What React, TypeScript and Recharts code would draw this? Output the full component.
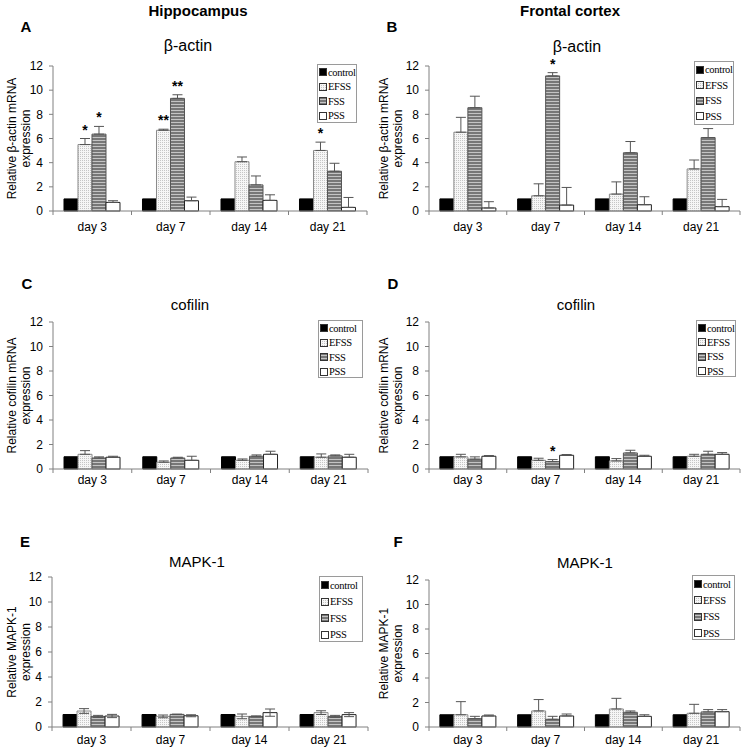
import React from 'react';
import { BarChart, Bar, XAxis, YAxis, ErrorBar, LabelList, Legend } from 'recharts';

const FONT = '"Liberation Sans", Arial, sans-serif';
const SERIF = '"Liberation Serif", "Times New Roman", serif';
const AXIS = '#808080';

const CATEGORIES = ['day 3', 'day 7', 'day 14', 'day 21'];
const SERIES = ['control', 'EFSS', 'FSS', 'PSS'];
const Y_TICKS = [0, 2, 4, 6, 8, 10, 12];
const CONTROL = [1, 1, 1, 1];

// A - hippocampus, beta-actin
const A_EFSS = [5.5, 6.68, 4.08, 5.01];
const A_EFSS_ERR = [0.5, 0.09, 0.39, 0.69];
const A_FSS = [6.36, 9.32, 2.16, 3.29];
const A_FSS_ERR = [0.64, 0.3, 0.74, 0.66];
const A_PSS = [0.71, 0.85, 0.88, 0.3];
const A_PSS_ERR = [0.14, 0.3, 0.46, 0.82];
const A_EFSS_STARS = ['*', '**', '', '*'];
const A_FSS_STARS = ['*', '**', '', ''];

// B - frontal cortex, beta-actin
const B_EFSS = [6.52, 1.26, 1.4, 3.48];
const B_EFSS_ERR = [1.23, 0.99, 1.01, 0.74];
const B_FSS = [8.55, 11.18, 4.82, 6.08];
const B_FSS_ERR = [0.95, 0.27, 0.93, 0.74];
const B_PSS = [0.25, 0.49, 0.52, 0.36];
const B_PSS_ERR = [0.52, 1.46, 0.66, 0.6];
const B_FSS_STARS = ['', '*', '', ''];

// C - hippocampus, cofilin
const C_EFSS = [1.2, 0.55, 0.71, 0.96];
const C_EFSS_ERR = [0.3, 0.11, 0.11, 0.27];
const C_FSS = [0.9, 0.9, 1.04, 1.07];
const C_FSS_ERR = [0.09, 0.06, 0.11, 0.08];
const C_PSS = [0.96, 0.71, 1.2, 0.96];
const C_PSS_ERR = [0.08, 0.33, 0.25, 0.24];

// D - frontal cortex, cofilin
const D_EFSS = [0.99, 0.71, 0.66, 1.04];
const D_EFSS_ERR = [0.21, 0.17, 0.19, 0.16];
const D_FSS = [0.8, 0.6, 1.31, 1.2];
const D_FSS_ERR = [0.19, 0.17, 0.22, 0.25];
const D_PSS = [1.04, 1.12, 1.04, 1.2];
const D_PSS_ERR = [0.06, 0.06, 0.08, 0.14];
const D_FSS_STARS = ['', '*', '', ''];

// E - hippocampus, MAPK-1 (two-sided error bars)
const E_EFSS = [1.28, 0.85, 0.85, 1.15];
const E_EFSS_ERR = [0.19, 0.11, 0.19, 0.15];
const E_FSS = [0.85, 1.01, 0.85, 0.85];
const E_FSS_ERR = [0.08, 0.02, 0.04, 0.08];
const E_PSS = [0.88, 0.9, 1.15, 0.99];
const E_PSS_ERR = [0.13, 0.08, 0.29, 0.16];

// F - frontal cortex, MAPK-1
const F_EFSS = [1.0, 1.31, 1.47, 1.12];
const F_EFSS_ERR = [1.07, 0.93, 0.87, 0.73];
const F_FSS = [0.68, 0.63, 1.2, 1.23];
const F_FSS_ERR = [0.19, 0.24, 0.11, 0.19];
const F_PSS = [0.9, 0.9, 0.87, 1.25];
const F_PSS_ERR = [0.08, 0.16, 0.13, 0.17];

const STROKES: Record<string, string> = { control: '#000', EFSS: '#8a8a8a', FSS: '#555', PSS: '#222' };

type Box = { left: number; top: number; width: number; height: number };

type PanelProps = {
  id: string;
  left: number;
  top: number;
  marginTop: number;
  marginRight: number;
  marginBottom: number;
  yAxisWidth: number;
  xAxisHeight: number;
  labelDy: number;
  yLabel: string;
  legend: Box;
  legendRow: number;
  series: Record<string, number[]>;
  errs: Record<string, number[]>;
  stars: Record<string, string[]>;
  twoSided?: boolean;
};

const W = 372;
const H = 250;

function fillFor(id: string, key: string) {
  if (key === 'control') return '#000';
  if (key === 'EFSS') return `url(#${id}-dots)`;
  if (key === 'FSS') return `url(#${id}-stripes)`;
  return '#fff';
}

const makeCatTick = (band: number, dy: number) => (props: any) => {
  const { x, y, payload } = props;
  const isLast = payload.value === CATEGORIES[CATEGORIES.length - 1];
  return (
    <g>
      <line x1={x - band / 2} y1={y} x2={x - band / 2} y2={y + 4} stroke={AXIS} />
      {isLast && <line x1={x + band / 2} y1={y} x2={x + band / 2} y2={y + 4} stroke={AXIS} />}
      <text x={x} y={y + dy} textAnchor="middle" fontSize={12} fontFamily={FONT} fill="#000">
        {payload.value}
      </text>
    </g>
  );
};

const makeStar = (vals: number[], errs: number[], stars: string[]) => (props: any) => {
  const vb = props.viewBox || props;
  const i = props.index;
  const s = stars[i];
  if (!s) return null;
  const px = vb.height / vals[i];
  const errTop = vb.y - errs[i] * px;
  return (
    <text
      key={`star-${i}`}
      x={vb.x + vb.width / 2}
      y={errTop - 4}
      textAnchor="middle"
      fontSize={14}
      fontWeight="bold"
      fontFamily={FONT}
      fill="#000"
    >
      {s}
    </text>
  );
};

function Panel(p: PanelProps) {
  const rows = CATEGORIES.map((day, i) => {
    const row: Record<string, any> = { day };
    SERIES.forEach((k) => {
      row[k] = p.series[k][i];
      if (p.errs[k]) row[`${k}Err`] = p.twoSided ? p.errs[k][i] : [0, p.errs[k][i]];
    });
    return row;
  });
  const plotW = W - p.yAxisWidth - p.marginRight;
  const band = plotW / CATEGORIES.length;
  const lines = [p.yLabel, 'expression'];

  const renderYLabel = (props: any) => {
    const vb = props.viewBox;
    const cy = vb.y + vb.height / 2;
    return (
      <g>
        {lines.map((t, i) => {
          const cx = vb.x + 11.5 + i * 14.5;
          return (
            <text
              key={t}
              x={cx}
              y={cy}
              transform={`rotate(-90 ${cx} ${cy})`}
              textAnchor="middle"
              dominantBaseline="central"
              fontSize={12}
              fontFamily={FONT}
              fill="#000"
            >
              {t}
            </text>
          );
        })}
      </g>
    );
  };

  const renderLegend = () => (
    <div
      style={{
        width: p.legend.width,
        height: p.legend.height,
        boxSizing: 'border-box',
        border: '1px solid #9a9a9a',
        background: '#fff',
        padding: '0 1px',
      }}
    >
      {SERIES.map((k) => (
        <div
          key={k}
          style={{
            display: 'flex',
            alignItems: 'center',
            height: p.legendRow,
            fontFamily: SERIF,
            fontSize: 10.5,
            whiteSpace: 'nowrap',
            letterSpacing: -0.3,
          }}
        >
          <svg width={8} height={8} style={{ marginRight: 1, flex: 'none' }}>
            <rect x={0.5} y={0.5} width={7} height={7} fill={fillFor(p.id, k)} stroke="#333" />
          </svg>
          <span>{k}</span>
        </div>
      ))}
    </div>
  );

  return (
    <div style={{ position: 'absolute', left: p.left, top: p.top }}>
      <BarChart
        width={W}
        height={H}
        data={rows}
        margin={{ top: p.marginTop, right: p.marginRight, bottom: p.marginBottom, left: 0 }}
        barCategoryGap="14%"
        barGap={0}
      >
        <defs>
          <pattern id={`${p.id}-dots`} width="2" height="2" patternUnits="userSpaceOnUse">
            <rect width="2" height="2" fill="#f6f6f6" />
            <rect width="1" height="1" fill="#c6c6c6" />
          </pattern>
          <pattern id={`${p.id}-stripes`} width="4" height="3" patternUnits="userSpaceOnUse">
            <rect width="4" height="3" fill="#777" />
            <rect y="2" width="4" height="1" fill="#c4c4c4" />
          </pattern>
        </defs>
        <XAxis
          dataKey="day"
          interval={0}
          height={p.xAxisHeight}
          axisLine={{ stroke: AXIS }}
          tickLine={false}
          tickSize={0}
          tickMargin={0}
          tick={makeCatTick(band, p.labelDy)}
        />
        <YAxis
          width={p.yAxisWidth}
          domain={[0, 12]}
          ticks={Y_TICKS}
          interval={0}
          axisLine={{ stroke: AXIS }}
          tickLine={{ stroke: AXIS }}
          tickSize={4}
          tickMargin={6}
          tick={{ fontSize: 12, fill: '#000', fontFamily: FONT }}
          label={{ content: renderYLabel }}
        />
        <Legend
          layout="horizontal"
          verticalAlign="middle"
          align="center"
          content={renderLegend}
          wrapperStyle={{ left: p.legend.left, top: p.legend.top, width: p.legend.width, height: p.legend.height }}
        />
        {SERIES.map((k) => (
          <Bar
            key={k}
            dataKey={k}
            name={k}
            fill={fillFor(p.id, k)}
            stroke={STROKES[k]}
            strokeWidth={1}
            isAnimationActive={false}
          >
            {p.errs[k] && (
              <ErrorBar dataKey={`${k}Err`} width={5} stroke="#555" strokeWidth={1} direction="y" />
            )}
            {p.stars[k] && p.errs[k] && (
              <LabelList dataKey={k} content={makeStar(p.series[k], p.errs[k], p.stars[k])} />
            )}
          </Bar>
        ))}
      </BarChart>
    </div>
  );
}

function Txt(props: { x: number; y: number; size: number; bold?: boolean; children: React.ReactNode }) {
  return (
    <div
      style={{
        position: 'absolute',
        left: props.x,
        top: props.y,
        transform: 'translate(-50%, -50%)',
        fontSize: props.size,
        fontWeight: props.bold ? 'bold' : 'normal',
        fontFamily: FONT,
        lineHeight: 1,
        whiteSpace: 'nowrap',
      }}
    >
      {props.children}
    </div>
  );
}

export default function App() {
  return (
    <div style={{ position: 'absolute', left: 0, top: 0, width: 744, height: 750, background: '#fff', fontFamily: FONT }}>
      <Txt x={198} y={10} size={15} bold>Hippocampus</Txt>
      <Txt x={570} y={10} size={15} bold>Frontal cortex</Txt>
      <Txt x={26} y={26} size={15} bold>A</Txt>
      <Txt x={392} y={26} size={15} bold>B</Txt>
      <Txt x={27} y={283} size={15} bold>C</Txt>
      <Txt x={393} y={283} size={15} bold>D</Txt>
      <Txt x={25} y={541} size={15} bold>E</Txt>
      <Txt x={398} y={541} size={15} bold>F</Txt>
      <Txt x={188} y={46} size={16}>β-actin</Txt>
      <Txt x={577} y={47} size={16}>β-actin</Txt>
      <Txt x={190} y={304} size={15}>cofilin</Txt>
      <Txt x={576} y={304} size={15}>cofilin</Txt>
      <Txt x={197} y={561} size={15}>MAPK-1</Txt>
      <Txt x={585} y={562} size={15}>MAPK-1</Txt>

      <Panel
        id="a"
        left={0}
        top={0}
        marginTop={66}
        marginRight={5}
        marginBottom={9}
        yAxisWidth={53}
        xAxisHeight={30}
        labelDy={19.5}
        yLabel="Relative β-actin mRNA"
        legend={{ left: 317, top: 64, width: 40, height: 59 }}
        legendRow={14.5}
        series={{ control: CONTROL, EFSS: A_EFSS, FSS: A_FSS, PSS: A_PSS }}
        errs={{ EFSS: A_EFSS_ERR, FSS: A_FSS_ERR, PSS: A_PSS_ERR }}
        stars={{ EFSS: A_EFSS_STARS, FSS: A_FSS_STARS }}
      />
      <Panel
        id="b"
        left={372}
        top={0}
        marginTop={66}
        marginRight={4}
        marginBottom={9}
        yAxisWidth={57}
        xAxisHeight={30}
        labelDy={19.5}
        yLabel="Relative β-actin mRNA"
        legend={{ left: 322, top: 61, width: 40, height: 64 }}
        legendRow={15.5}
        series={{ control: CONTROL, EFSS: B_EFSS, FSS: B_FSS, PSS: B_PSS }}
        errs={{ EFSS: B_EFSS_ERR, FSS: B_FSS_ERR, PSS: B_PSS_ERR }}
        stars={{ FSS: B_FSS_STARS }}
      />
      <Panel
        id="c"
        left={0}
        top={250}
        marginTop={72}
        marginRight={4}
        marginBottom={1}
        yAxisWidth={53}
        xAxisHeight={30}
        labelDy={15}
        yLabel="Relative cofilin mRNA"
        legend={{ left: 318, top: 70, width: 45, height: 58 }}
        legendRow={14.5}
        series={{ control: CONTROL, EFSS: C_EFSS, FSS: C_FSS, PSS: C_PSS }}
        errs={{ EFSS: C_EFSS_ERR, FSS: C_FSS_ERR, PSS: C_PSS_ERR }}
        stars={{}}
      />
      <Panel
        id="d"
        left={372}
        top={250}
        marginTop={72}
        marginRight={4}
        marginBottom={1}
        yAxisWidth={57}
        xAxisHeight={30}
        labelDy={15}
        yLabel="Relative cofilin mRNA"
        legend={{ left: 324, top: 70, width: 40, height: 57 }}
        legendRow={14.3}
        series={{ control: CONTROL, EFSS: D_EFSS, FSS: D_FSS, PSS: D_PSS }}
        errs={{ EFSS: D_EFSS_ERR, FSS: D_FSS_ERR, PSS: D_PSS_ERR }}
        stars={{ FSS: D_FSS_STARS }}
      />
      <Panel
        id="e"
        left={0}
        top={500}
        marginTop={77}
        marginRight={4}
        marginBottom={0}
        yAxisWidth={52}
        xAxisHeight={23}
        labelDy={17}
        yLabel="Relative MAPK-1"
        legend={{ left: 319, top: 76, width: 44, height: 66 }}
        legendRow={16.5}
        series={{ control: CONTROL, EFSS: E_EFSS, FSS: E_FSS, PSS: E_PSS }}
        errs={{ EFSS: E_EFSS_ERR, FSS: E_FSS_ERR, PSS: E_PSS_ERR }}
        stars={{}}
        twoSided
      />
      <Panel
        id="f"
        left={372}
        top={500}
        marginTop={80}
        marginRight={4}
        marginBottom={0}
        yAxisWidth={57}
        xAxisHeight={23}
        labelDy={17}
        yLabel="Relative MAPK-1"
        legend={{ left: 320, top: 75, width: 43, height: 65 }}
        legendRow={16.3}
        series={{ control: CONTROL, EFSS: F_EFSS, FSS: F_FSS, PSS: F_PSS }}
        errs={{ EFSS: F_EFSS_ERR, FSS: F_FSS_ERR, PSS: F_PSS_ERR }}
        stars={{}}
      />
    </div>
  );
}
